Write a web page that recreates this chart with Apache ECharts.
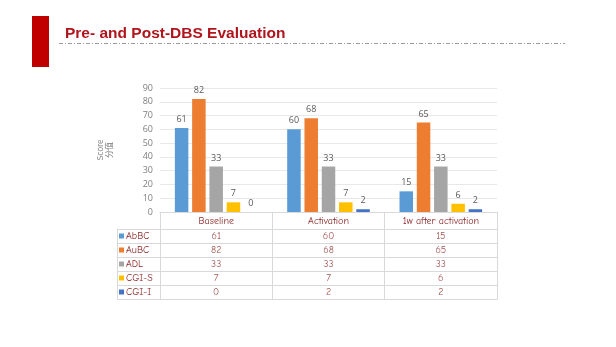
<!DOCTYPE html>
<html><head><meta charset="utf-8">
<script src="https://cdn.jsdelivr.net/npm/echarts@6/dist/echarts.min.js"></script>
<style>html,body{margin:0;padding:0;background:#fff}#c{width:616px;height:347px}</style>
</head><body><div id="c"></div>
<script>
const categories = ['Baseline', 'Activation', '1w after activation'];
const seriesNames = ['AbBC', 'AuBC', 'ADL', 'CGI-S', 'CGI-I'];
const AbBC = [61, 60, 15];
const AuBC = [82, 68, 65];
const ADL = [33, 33, 33];
const CGIS = [7, 7, 6];
const CGII = [0, 2, 2];
const yTicks = [0, 90, 10]; // min, max, interval
const titleText = 'Pre- and Post-DBS Evaluation';
const yName = 'Score\n分值';

const values = [AbBC, AuBC, ADL, CGIS, CGII];
const colors = ['#5B9BD5', '#ED7D31', '#A5A5A5', '#FFC000', '#4472C4'];
const tableFont = "'Comic Sans MS','Comic Neue',Lato,sans-serif";
const tableColor = '#8B2525';
const border = '#D9D9D9';

const chart = echarts.init(document.getElementById('c'), null, {renderer: 'canvas'});

const barSeries = seriesNames.map((n, i) => ({
  name: n, type: 'bar', xAxisIndex: 0, yAxisIndex: 0,
  data: values[i], barWidth: 13.5, barGap: '28%',
  itemStyle: {color: colors[i]},
  label: {show: true, position: 'top', distance: 4, color: '#595959', fontSize: 9, fontFamily: 'Open Sans, sans-serif'}
}));

const cellData = [];
values.forEach((arr, r) => arr.forEach((v, c) => cellData.push([c, r, v])));

const rich = {};
seriesNames.forEach((n, i) => { rich['s' + i] = {width: 5, height: 5, backgroundColor: colors[i]}; });
rich.t = {color: tableColor, fontSize: 10, fontFamily: tableFont, padding: [0, 0, 0, 2]};

chart.setOption({
  animation: false,
  grid: [
    {left: 160, right: 119, top: 88, bottom: 135},
    {left: 160, right: 119, top: 229, height: 70}
  ],
  xAxis: [
    {type: 'category', gridIndex: 0, data: categories,
      axisLine: {lineStyle: {color: border}},
      axisTick: {show: true, inside: false, length: 17, interval: 0, lineStyle: {color: border}},
      axisLabel: {color: tableColor, fontSize: 10, fontFamily: tableFont, margin: 4, interval: 0}},
    {type: 'category', gridIndex: 1, data: categories, position: 'bottom',
      axisLine: {lineStyle: {color: border}}, axisTick: {show: false}, axisLabel: {show: false},
      splitLine: {show: true, interval: 0, lineStyle: {color: border}}},
    {type: 'category', gridIndex: 1, data: categories, position: 'top',
      axisLine: {lineStyle: {color: border}}, axisTick: {show: false}, axisLabel: {show: false}}
  ],
  yAxis: [
    {type: 'value', gridIndex: 0, min: yTicks[0], max: yTicks[1], interval: yTicks[2],
      name: yName, nameLocation: 'middle', nameGap: 47, nameRotate: 90,
      nameTextStyle: {color: '#7F7F7F', fontSize: 8, lineHeight: 9, fontFamily: 'Noto Sans CJK SC, sans-serif'},
      axisLine: {show: false}, axisTick: {show: false},
      axisLabel: {color: '#7F7F7F', fontSize: 9, margin: 7, fontFamily: 'Open Sans, sans-serif'},
      splitLine: {lineStyle: {color: '#E8E8E8'}}},
    {type: 'category', gridIndex: 1, data: seriesNames, inverse: true,
      axisLine: {lineStyle: {color: border}},
      axisTick: {show: true, length: 43, interval: 0, lineStyle: {color: border}},
      axisLabel: {inside: false, margin: 41, align: 'left', interval: 0,
        formatter: (v) => '{s' + seriesNames.indexOf(v) + '|}{t|' + v + '}', rich: rich},
      splitLine: {show: true, interval: 0, lineStyle: {color: border}}},
    {type: 'category', gridIndex: 1, data: seriesNames, inverse: true, position: 'left', offset: 43,
      axisLine: {lineStyle: {color: border}}, axisTick: {show: false}, axisLabel: {show: false}},
    {type: 'category', gridIndex: 1, data: seriesNames, inverse: true, position: 'right',
      axisLine: {lineStyle: {color: border}}, axisTick: {show: false}, axisLabel: {show: false}}
  ],
  series: barSeries.concat([{
    type: 'scatter', xAxisIndex: 1, yAxisIndex: 1, data: cellData, symbolSize: 0,
    encode: {x: 0, y: 1},
    label: {show: true, position: 'inside', formatter: p => String(p.value[2]),
      color: tableColor, fontSize: 10, fontFamily: tableFont}
  }]),
  graphic: [
    {type: 'rect', shape: {x: 32, y: 16, width: 17, height: 51}, style: {fill: '#C00000'}},
    {type: 'text', left: 65, top: 25.5, style: {text: titleText, fill: '#B0141C', font: 'bold 15.5px "Liberation Sans", Arial, sans-serif'}},
    {type: 'line', shape: {x1: 59, y1: 43.5, x2: 565, y2: 43.5}, style: {stroke: '#808080', lineWidth: 0.8, lineDash: [4, 2, 1, 2]}}
  ]
});
</script></body></html>
